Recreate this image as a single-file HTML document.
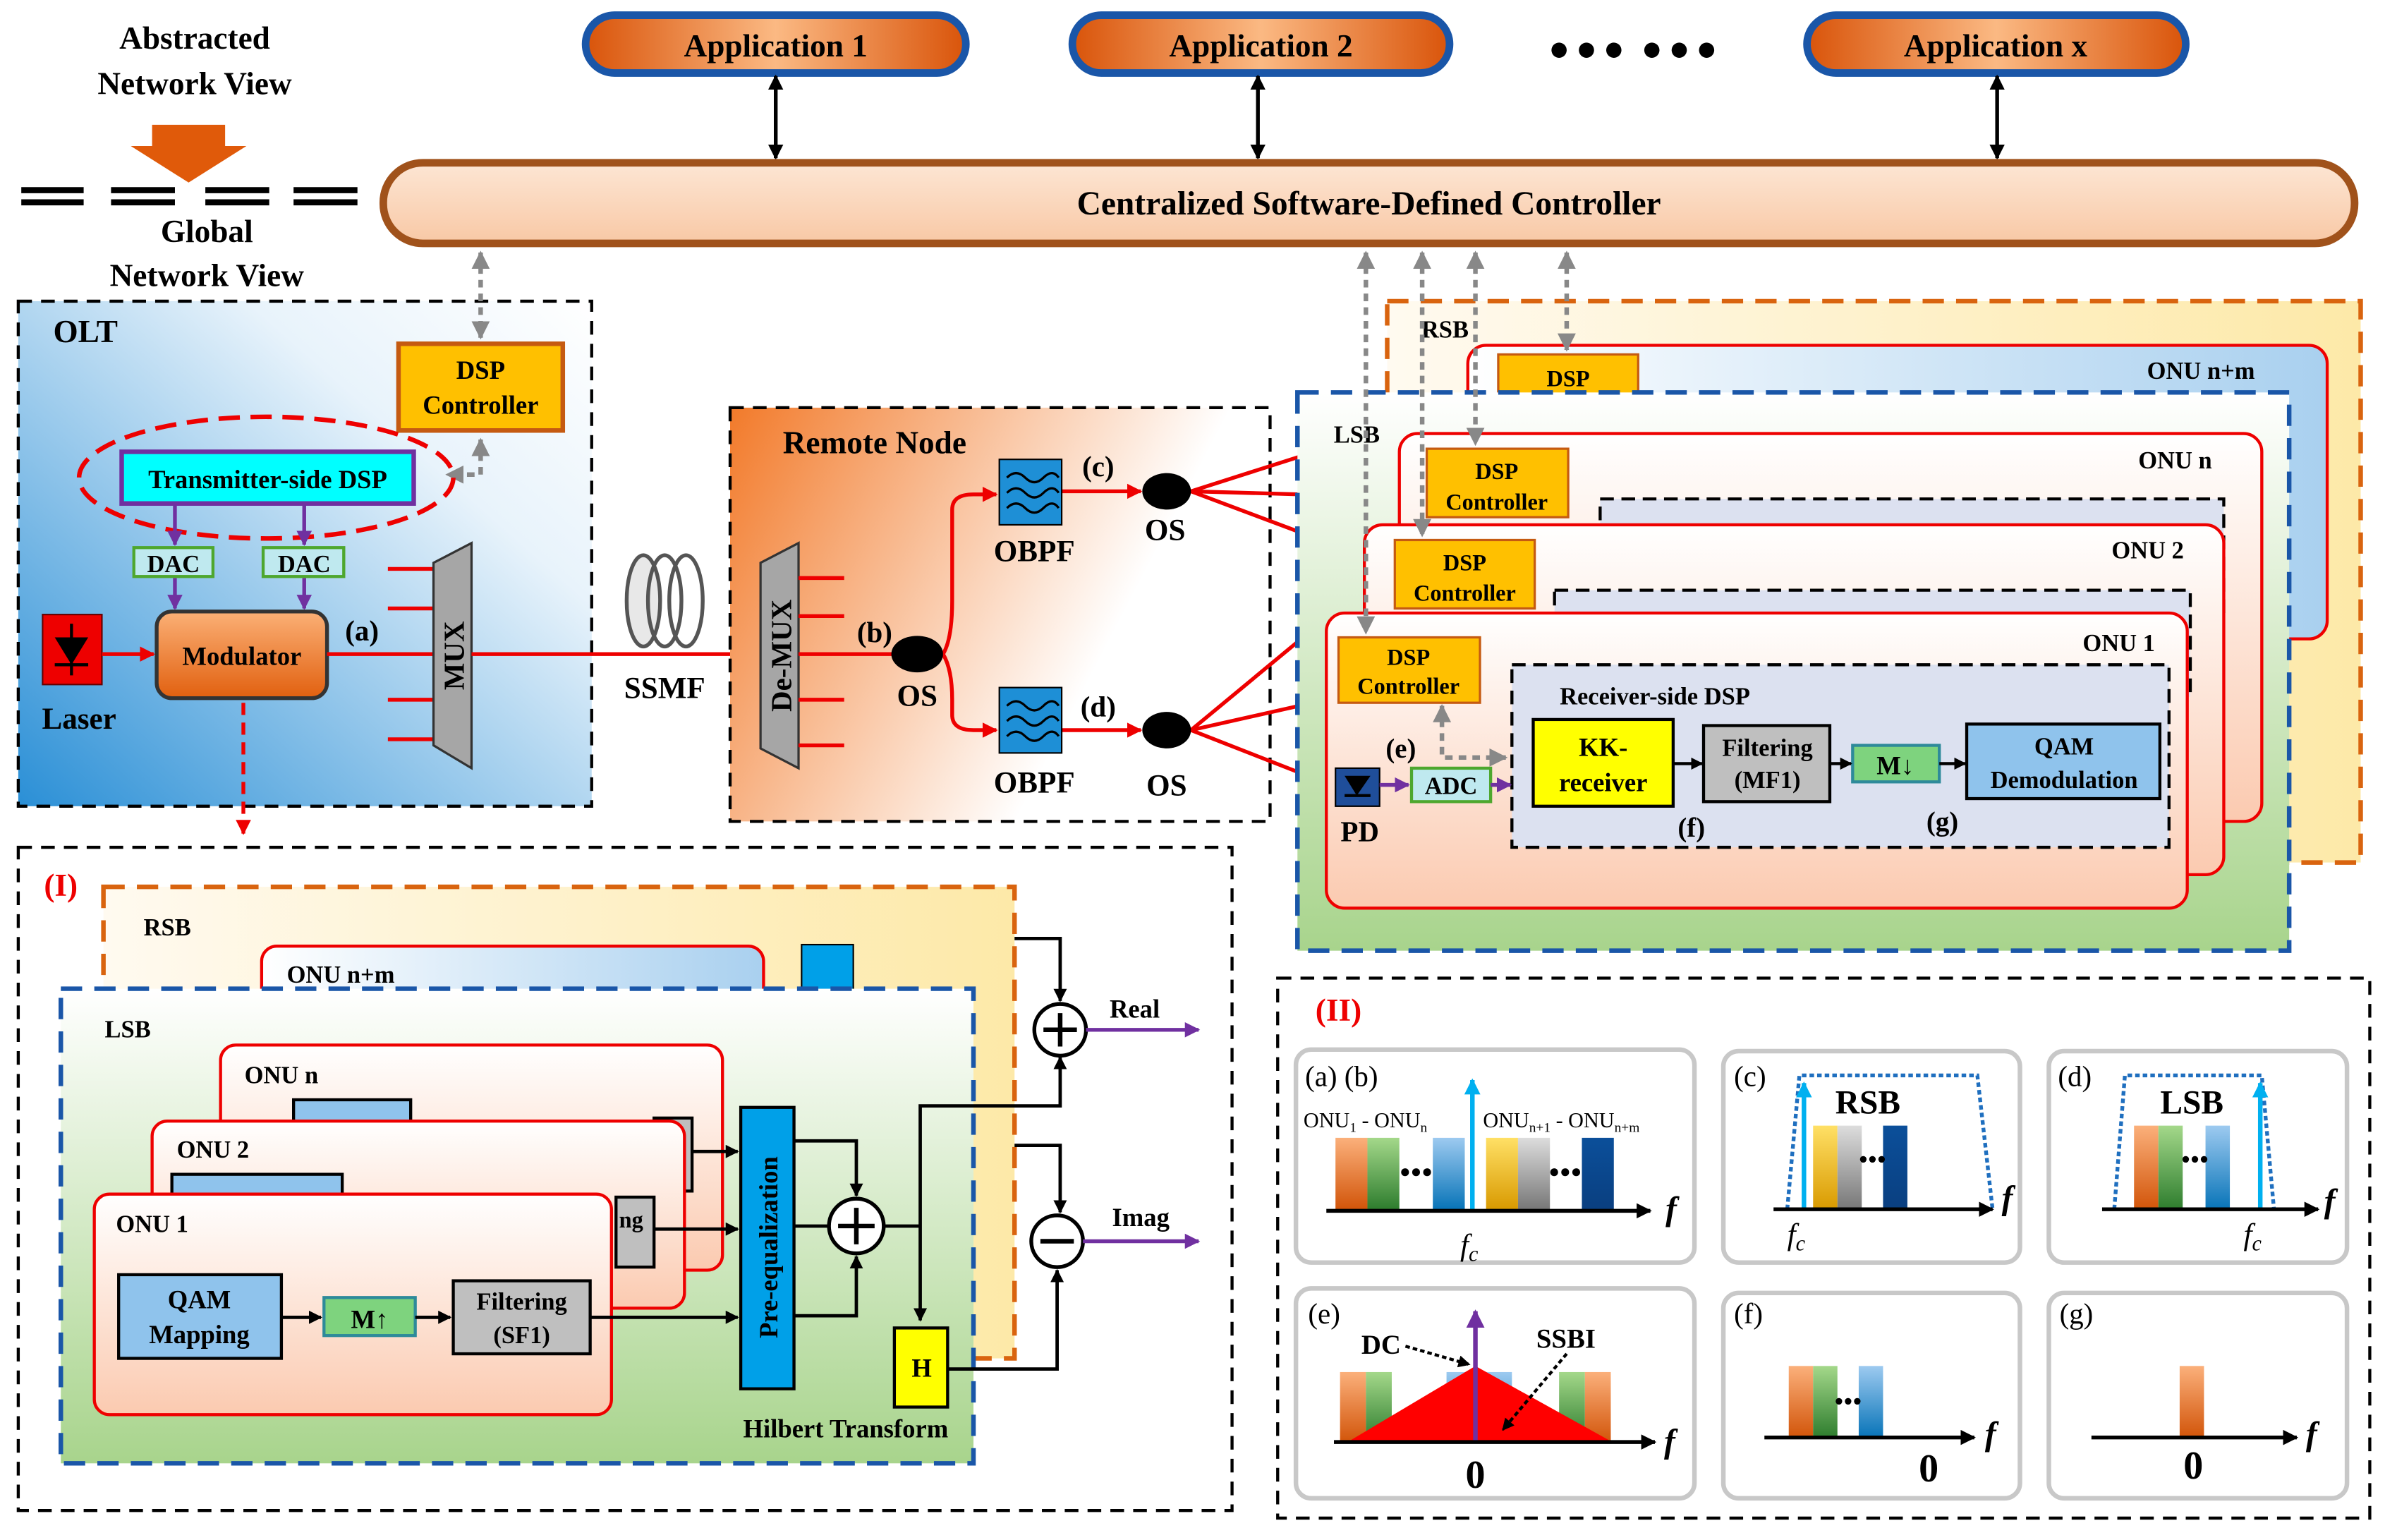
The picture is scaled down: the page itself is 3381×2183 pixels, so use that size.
<!DOCTYPE html>
<html><head><meta charset="utf-8"><style>html,body{margin:0;padding:0;background:#fff}svg{display:block}text{font-family:"Liberation Serif",serif;font-weight:bold}</style></head><body>
<svg width="3381" height="2183" viewBox="0 0 1568 1012.4" xmlns="http://www.w3.org/2000/svg">
<defs>
<marker id="ak" viewBox="0 0 10 10" refX="9" refY="5" markerWidth="4" markerHeight="4" orient="auto-start-reverse"><path d="M0,0L10,5L0,10z" fill="#000"/></marker>
<marker id="ar" viewBox="0 0 10 10" refX="9" refY="5" markerWidth="4" markerHeight="4" orient="auto-start-reverse"><path d="M0,0L10,5L0,10z" fill="#e00"/></marker>
<marker id="ap" viewBox="0 0 10 10" refX="9" refY="5" markerWidth="4" markerHeight="4" orient="auto-start-reverse"><path d="M0,0L10,5L0,10z" fill="#7030a0"/></marker>
<marker id="ag" viewBox="0 0 10 10" refX="9" refY="5" markerWidth="4" markerHeight="4" orient="auto-start-reverse"><path d="M0,0L10,5L0,10z" fill="#888"/></marker>
<marker id="ac" viewBox="0 0 10 10" refX="9" refY="5" markerWidth="3.5" markerHeight="3.5" orient="auto"><path d="M0,0L10,5L0,10z" fill="#00b0f0"/></marker>
<linearGradient id="gApp" x1="0" x2="1"><stop offset="0" stop-color="#d9540a"/><stop offset=".5" stop-color="#fbb983"/><stop offset="1" stop-color="#d9540a"/></linearGradient>
<linearGradient id="gCtl" x1="0" y1="0" x2="0" y2="1"><stop offset="0" stop-color="#fde6d4"/><stop offset="1" stop-color="#f8c8a5"/></linearGradient>
<linearGradient id="gOLT" x1="0" y1="1" x2="1" y2="0"><stop offset="0" stop-color="#2a8fd6"/><stop offset=".7" stop-color="#e8f3fb"/><stop offset="1" stop-color="#fff"/></linearGradient>
<linearGradient id="gRN" x1="0" y1="0" x2="1" y2=".4"><stop offset="0" stop-color="#f27a2a"/><stop offset=".8" stop-color="#fff"/></linearGradient>
<linearGradient id="gRSB" x1="0" y1="0" x2="1" y2="0"><stop offset="0" stop-color="#fffaf0"/><stop offset="1" stop-color="#fde9a8"/></linearGradient>
<linearGradient id="gLSB" x1="0" y1="0" x2="0" y2="1"><stop offset="0" stop-color="#fff"/><stop offset="1" stop-color="#a8d48c"/></linearGradient>
<linearGradient id="gONU" x1="0" y1="0" x2="0" y2="1"><stop offset="0" stop-color="#fff"/><stop offset="1" stop-color="#fbcab0"/></linearGradient>
<linearGradient id="gONUb" x1="0" y1="0" x2="1" y2="0"><stop offset="0" stop-color="#fff"/><stop offset="1" stop-color="#a9d0ef"/></linearGradient>
<linearGradient id="gMod" x1="0" y1="0" x2="0" y2="1"><stop offset="0" stop-color="#fbb076"/><stop offset="1" stop-color="#e1600f"/></linearGradient>
<linearGradient id="bo" x1="0" y1="0" x2="0" y2="1"><stop offset="0" stop-color="#fbb07b"/><stop offset="1" stop-color="#d2550a"/></linearGradient>
<linearGradient id="bg" x1="0" y1="0" x2="0" y2="1"><stop offset="0" stop-color="#a4d88a"/><stop offset="1" stop-color="#2e7d2e"/></linearGradient>
<linearGradient id="bb" x1="0" y1="0" x2="0" y2="1"><stop offset="0" stop-color="#9dcaf0"/><stop offset="1" stop-color="#0874b8"/></linearGradient>
<linearGradient id="by" x1="0" y1="0" x2="0" y2="1"><stop offset="0" stop-color="#ffe066"/><stop offset="1" stop-color="#d99a00"/></linearGradient>
<linearGradient id="bs" x1="0" y1="0" x2="0" y2="1"><stop offset="0" stop-color="#ddd"/><stop offset="1" stop-color="#777"/></linearGradient>
<linearGradient id="bd" x1="0" y1="0" x2="0" y2="1"><stop offset="0" stop-color="#0b4f9a"/><stop offset="1" stop-color="#0a3f80"/></linearGradient>
</defs>

<!-- top apps -->
<g font-size="21" text-anchor="middle">
<rect x="385" y="10" width="250" height="38" rx="19" fill="url(#gApp)" stroke="#1a56a8" stroke-width="5"/><text x="510" y="37">Application 1</text>
<rect x="705" y="10" width="248" height="38" rx="19" fill="url(#gApp)" stroke="#1a56a8" stroke-width="5"/><text x="829" y="37">Application 2</text>
<rect x="1188" y="10" width="249" height="38" rx="19" fill="url(#gApp)" stroke="#1a56a8" stroke-width="5"/><text x="1312" y="37">Application x</text>
</g>
<g fill="#000"><circle cx="1025" cy="33" r="5"/><circle cx="1043" cy="33" r="5"/><circle cx="1061" cy="33" r="5"/><circle cx="1086" cy="33" r="5"/><circle cx="1104" cy="33" r="5"/><circle cx="1122" cy="33" r="5"/></g>
<g stroke="#000" stroke-width="2.5" marker-start="url(#ak)" marker-end="url(#ak)"><line x1="510" y1="50" x2="510" y2="104"/><line x1="827" y1="50" x2="827" y2="104"/><line x1="1313" y1="50" x2="1313" y2="104"/></g>
<rect x="252" y="107" width="1296" height="53" rx="26" fill="url(#gCtl)" stroke="#a0521b" stroke-width="5"/>
<text x="900" y="141" font-size="22" text-anchor="middle">Centralized Software-Defined Controller</text>

<!-- abstracted view -->
<g font-size="21" text-anchor="middle"><text x="128" y="32">Abstracted</text><text x="128" y="62">Network View</text><text x="136" y="159">Global</text><text x="136" y="188">Network View</text></g>
<path d="M100,82H148V96H162L124,120L86,96H100z" fill="#e05a0a"/>
<g stroke="#000" stroke-width="4"><path d="M14,125H55M14,133H55M73,125H115M73,133H115M135,125H177M135,133H177M193,125H235M193,133H235"/></g>

<!-- OLT -->
<rect x="12" y="198" width="377" height="332" fill="url(#gOLT)" stroke="#000" stroke-width="2" stroke-dasharray="9,6"/>
<text x="35" y="225" font-size="21">OLT</text>
<rect x="262" y="226" width="108" height="57" fill="#ffc000" stroke="#c55a11" stroke-width="3"/>
<text x="316" y="249" font-size="17" text-anchor="middle">DSP</text><text x="316" y="272" font-size="17" text-anchor="middle">Controller</text>
<g stroke="#888" stroke-width="3" stroke-dasharray="5,4" fill="none"><line x1="316" y1="166" x2="316" y2="222" marker-start="url(#ag)" marker-end="url(#ag)"/><path d="M316,289V312H294" marker-start="url(#ag)" marker-end="url(#ag)"/></g>
<ellipse cx="175" cy="314" rx="123" ry="40" fill="none" stroke="#e00" stroke-width="3" stroke-dasharray="14,7"/>
<rect x="80" y="297" width="192" height="34" fill="#00ffff" stroke="#7030a0" stroke-width="3"/>
<text x="176" y="321" font-size="17" text-anchor="middle">Transmitter-side DSP</text>
<g stroke="#7030a0" stroke-width="2.5" marker-end="url(#ap)"><line x1="115" y1="332" x2="115" y2="358"/><line x1="200" y1="332" x2="200" y2="358"/><line x1="115" y1="380" x2="115" y2="400"/><line x1="200" y1="380" x2="200" y2="400"/></g>
<rect x="88" y="360" width="52" height="19" fill="#bfe9ef" stroke="#4ea72e" stroke-width="2"/><text x="114" y="376" font-size="16" text-anchor="middle">DAC</text>
<rect x="173" y="360" width="53" height="19" fill="#bfe9ef" stroke="#4ea72e" stroke-width="2"/><text x="200" y="376" font-size="16" text-anchor="middle">DAC</text>
<rect x="28" y="404" width="39" height="46" fill="#e00" stroke="#600" stroke-width="1"/>
<path d="M36,419H58L47,437z" fill="#000"/><line x1="36" y1="437" x2="58" y2="437" stroke="#000" stroke-width="2"/><line x1="47" y1="410" x2="47" y2="444" stroke="#000" stroke-width="2"/>
<text x="52" y="479" font-size="20" text-anchor="middle">Laser</text>
<line x1="67" y1="430" x2="101" y2="430" stroke="#e00" stroke-width="2.5" marker-end="url(#ar)"/>
<rect x="103" y="402" width="112" height="57" rx="10" fill="url(#gMod)" stroke="#333" stroke-width="2.5"/>
<text x="159" y="437" font-size="17" text-anchor="middle">Modulator</text>
<text x="238" y="421" font-size="19" text-anchor="middle">(a)</text>
<g stroke="#e00" stroke-width="2.5"><line x1="215" y1="430" x2="285" y2="430"/><path d="M255,374H285M255,400H285M255,460H285M255,486H285"/></g>
<path d="M285,370L310,357V505L285,490z" fill="#a6a6a6" stroke="#333" stroke-width="1.5"/>
<text transform="translate(305,431) rotate(-90)" font-size="19" text-anchor="middle">MUX</text>
<path d="M160,462V548" stroke="#e00" stroke-width="2.5" stroke-dasharray="8,5" marker-end="url(#ar)"/>

<!-- fiber -->
<line x1="310" y1="430" x2="498" y2="430" stroke="#e00" stroke-width="2.5" marker-end="url(#ar)"/>
<g fill="none" stroke="#555" stroke-width="2.5"><ellipse cx="423" cy="395" rx="11" ry="30" fill="#e8e8e8"/><ellipse cx="437" cy="395" rx="11" ry="30"/><ellipse cx="451" cy="395" rx="11" ry="30"/></g>
<text x="437" y="459" font-size="20" text-anchor="middle">SSMF</text>

<!-- Remote node -->
<rect x="480" y="268" width="355" height="272" fill="url(#gRN)" stroke="#000" stroke-width="2" stroke-dasharray="9,6"/>
<text x="575" y="298" font-size="21" text-anchor="middle">Remote Node</text>
<path d="M500,370L525,357V505L500,492z" fill="#a6a6a6" stroke="#333" stroke-width="1.5"/>
<text transform="translate(520,431) rotate(-90)" font-size="19" text-anchor="middle">De-MUX</text>
<g stroke="#e00" stroke-width="2.5" fill="none"><path d="M525,380H555M525,405H555M525,460H555M525,490H555M525,430H588"/>
<path d="M620,430Q626,420 626,395V335Q626,325 640,325H655" marker-end="url(#ar)"/><path d="M620,430Q626,440 626,460V470Q626,480 640,480H655" marker-end="url(#ar)"/>
<line x1="698" y1="323" x2="750" y2="323" marker-end="url(#ar)"/><line x1="698" y1="480" x2="750" y2="480" marker-end="url(#ar)"/>
<path d="M783,323L855,300M783,323L855,350M783,323L855,325"/><path d="M783,480L870,408M783,480L872,460"/><line x1="783" y1="480" x2="875" y2="516" marker-end="url(#ar)"/></g>
<text x="575" y="422" font-size="19" text-anchor="middle">(b)</text>
<ellipse cx="603" cy="430" rx="17" ry="12"/><text x="603" y="464" font-size="20" text-anchor="middle">OS</text>
<g><rect x="657" y="302" width="41" height="43" fill="#1e8fd6" stroke="#000"/><path d="M662,314q6,-6 12,0t12,0t10,0M662,324q6,-6 12,0t12,0t10,0M662,334q6,-6 12,0t12,0t10,0" fill="none" stroke="#000" stroke-width="1.5"/>
<rect x="657" y="452" width="41" height="43" fill="#1e8fd6" stroke="#000"/><path d="M662,464q6,-6 12,0t12,0t10,0M662,474q6,-6 12,0t12,0t10,0M662,484q6,-6 12,0t12,0t10,0" fill="none" stroke="#000" stroke-width="1.5"/></g>
<text x="680" y="369" font-size="20" text-anchor="middle">OBPF</text><text x="680" y="521" font-size="20" text-anchor="middle">OBPF</text>
<text x="722" y="313" font-size="19" text-anchor="middle">(c)</text><text x="722" y="471" font-size="19" text-anchor="middle">(d)</text>
<ellipse cx="767" cy="323" rx="16" ry="12"/><text x="766" y="355" font-size="20" text-anchor="middle">OS</text>
<ellipse cx="767" cy="480" rx="16" ry="12"/><text x="767" y="523" font-size="20" text-anchor="middle">OS</text>

<!-- Right ONU stack -->
<rect x="912" y="198" width="640" height="369" fill="url(#gRSB)" stroke="#d9640f" stroke-width="3" stroke-dasharray="14,8"/>
<text x="950" y="222" font-size="16" text-anchor="middle">RSB</text>
<rect x="965" y="227" width="565" height="193" rx="12" fill="url(#gONUb)" stroke="#e00" stroke-width="2"/>
<text x="1447" y="249" font-size="16" text-anchor="middle">ONU n+m</text>
<rect x="985" y="233" width="92" height="29" fill="#ffc000" stroke="#c55a11" stroke-width="1.5"/><text x="1031" y="254" font-size="15" text-anchor="middle">DSP</text>
<rect x="853" y="258" width="652" height="367" fill="url(#gLSB)" stroke="#1a56a8" stroke-width="3" stroke-dasharray="14,8"/>
<text x="892" y="291" font-size="16" text-anchor="middle">LSB</text>
<rect x="920" y="285" width="567" height="255" rx="12" fill="url(#gONU)" stroke="#e00" stroke-width="2"/>
<text x="1430" y="308" font-size="16" text-anchor="middle">ONU n</text>
<rect x="1052" y="328" width="410" height="80" fill="#dce1f0" stroke="#000" stroke-width="2" stroke-dasharray="9,5"/>
<rect x="938" y="295" width="93" height="45" fill="#ffc000" stroke="#c55a11" stroke-width="1.5"/><text x="984" y="315" font-size="15" text-anchor="middle">DSP</text><text x="984" y="335" font-size="15" text-anchor="middle">Controller</text>
<rect x="897" y="345" width="565" height="230" rx="12" fill="url(#gONU)" stroke="#e00" stroke-width="2"/>
<text x="1412" y="367" font-size="16" text-anchor="middle">ONU 2</text>
<rect x="1022" y="388" width="418" height="70" fill="#dce1f0" stroke="#000" stroke-width="2" stroke-dasharray="9,5"/>
<rect x="917" y="355" width="92" height="45" fill="#ffc000" stroke="#c55a11" stroke-width="1.5"/><text x="963" y="375" font-size="15" text-anchor="middle">DSP</text><text x="963" y="395" font-size="15" text-anchor="middle">Controller</text>
<rect x="872" y="403" width="566" height="194" rx="12" fill="url(#gONU)" stroke="#e00" stroke-width="2"/>
<text x="1393" y="428" font-size="16" text-anchor="middle">ONU 1</text>
<rect x="880" y="419" width="93" height="43" fill="#ffc000" stroke="#c55a11" stroke-width="1.5"/><text x="926" y="437" font-size="15" text-anchor="middle">DSP</text><text x="926" y="456" font-size="15" text-anchor="middle">Controller</text>
<rect x="994" y="437" width="432" height="120" fill="#dce1f0" stroke="#000" stroke-width="2" stroke-dasharray="9,5"/>
<text x="1088" y="463" font-size="16" text-anchor="middle">Receiver-side DSP</text>
<rect x="1008" y="473" width="92" height="57" fill="#ffff00" stroke="#000" stroke-width="2"/><text x="1054" y="497" font-size="17" text-anchor="middle">KK-</text><text x="1054" y="520" font-size="17" text-anchor="middle">receiver</text>
<rect x="1120" y="477" width="83" height="50" fill="#bfbfbf" stroke="#000" stroke-width="2"/><text x="1162" y="497" font-size="16" text-anchor="middle">Filtering</text><text x="1162" y="518" font-size="16" text-anchor="middle">(MF1)</text>
<rect x="1218" y="490" width="57" height="24" fill="#7ed37e" stroke="#2e8a9a" stroke-width="2"/><text x="1246" y="509" font-size="17" text-anchor="middle">M↓</text>
<rect x="1293" y="476" width="127" height="49" fill="#8fc3ec" stroke="#000" stroke-width="2"/><text x="1357" y="496" font-size="16" text-anchor="middle">QAM</text><text x="1357" y="518" font-size="16" text-anchor="middle">Demodulation</text>
<g stroke="#000" stroke-width="2" marker-end="url(#ak)"><line x1="1100" y1="502" x2="1119" y2="502"/><line x1="1203" y1="502" x2="1217" y2="502"/><line x1="1275" y1="502" x2="1292" y2="502"/></g>
<rect x="878" y="505" width="29" height="25" fill="#1f4e9a" stroke="#000"/><path d="M884,510H901L892,523z" fill="#000"/><line x1="884" y1="523" x2="901" y2="523" stroke="#000" stroke-width="2"/>
<text x="894" y="553" font-size="19" text-anchor="middle">PD</text>
<text x="921" y="498" font-size="18" text-anchor="middle">(e)</text>
<line x1="907" y1="516" x2="926" y2="516" stroke="#7030a0" stroke-width="2.5" marker-end="url(#ap)"/>
<rect x="928" y="505" width="52" height="22" fill="#bfe9ef" stroke="#4ea72e" stroke-width="2"/><text x="954" y="522" font-size="16" text-anchor="middle">ADC</text>
<line x1="980" y1="516" x2="993" y2="516" stroke="#7030a0" stroke-width="2.5" marker-end="url(#ap)"/>
<text x="1112" y="550" font-size="18" text-anchor="middle">(f)</text><text x="1277" y="546" font-size="18" text-anchor="middle">(g)</text>
<g stroke="#888" stroke-width="3" stroke-dasharray="5,4" fill="none">
<path d="M948,464V498H990" marker-start="url(#ag)" marker-end="url(#ag)"/>
<line x1="898" y1="166" x2="898" y2="416" marker-start="url(#ag)" marker-end="url(#ag)"/>
<line x1="935" y1="166" x2="935" y2="352" marker-start="url(#ag)" marker-end="url(#ag)"/>
<line x1="970" y1="166" x2="970" y2="292" marker-start="url(#ag)" marker-end="url(#ag)"/>
<line x1="1030" y1="166" x2="1030" y2="230" marker-start="url(#ag)" marker-end="url(#ag)"/></g>

<!-- (I) -->
<rect x="12" y="557" width="798" height="436" fill="#fff" stroke="#000" stroke-width="2" stroke-dasharray="9,6"/>
<text x="40" y="589" font-size="21" fill="#e00" text-anchor="middle">(I)</text>
<rect x="68" y="583" width="599" height="310" fill="url(#gRSB)" stroke="#d9640f" stroke-width="3" stroke-dasharray="14,8"/>
<text x="110" y="615" font-size="16" text-anchor="middle">RSB</text>
<rect x="172" y="622" width="330" height="80" rx="10" fill="url(#gONUb)" stroke="#e00" stroke-width="2"/>
<text x="224" y="646" font-size="16" text-anchor="middle">ONU n+m</text>
<rect x="527" y="621" width="34" height="30" fill="#00a0e8" stroke="#000"/>
<rect x="40" y="650" width="600" height="312" fill="url(#gLSB)" stroke="#1a56a8" stroke-width="3" stroke-dasharray="14,8"/>
<text x="84" y="682" font-size="16" text-anchor="middle">LSB</text>
<rect x="145" y="687" width="330" height="148" rx="10" fill="url(#gONU)" stroke="#e00" stroke-width="2"/>
<text x="185" y="712" font-size="16" text-anchor="middle">ONU n</text>
<rect x="193" y="723" width="77" height="30" fill="#8fc3ec" stroke="#000" stroke-width="2"/>
<rect x="430" y="735" width="25" height="48" fill="#bfbfbf" stroke="#000" stroke-width="2"/><text x="440" y="755" font-size="15">g</text>
<rect x="100" y="737" width="350" height="123" rx="10" fill="url(#gONU)" stroke="#e00" stroke-width="2"/>
<text x="140" y="761" font-size="16" text-anchor="middle">ONU 2</text>
<rect x="113" y="772" width="112" height="30" fill="#8fc3ec" stroke="#000" stroke-width="2"/>
<rect x="405" y="787" width="25" height="46" fill="#bfbfbf" stroke="#000" stroke-width="2"/><text x="407" y="807" font-size="15">ng</text>
<rect x="62" y="785" width="340" height="145" rx="10" fill="url(#gONU)" stroke="#e00" stroke-width="2"/>
<text x="100" y="810" font-size="16" text-anchor="middle">ONU 1</text>
<rect x="78" y="838" width="107" height="55" fill="#8fc3ec" stroke="#000" stroke-width="2"/><text x="131" y="860" font-size="17" text-anchor="middle">QAM</text><text x="131" y="883" font-size="17" text-anchor="middle">Mapping</text>
<rect x="213" y="853" width="60" height="25" fill="#7ed37e" stroke="#2e8a9a" stroke-width="2"/><text x="243" y="873" font-size="17" text-anchor="middle">M↑</text>
<rect x="298" y="842" width="90" height="48" fill="#bfbfbf" stroke="#000" stroke-width="2"/><text x="343" y="861" font-size="16" text-anchor="middle">Filtering</text><text x="343" y="883" font-size="16" text-anchor="middle">(SF1)</text>
<g stroke="#000" stroke-width="2.2" fill="none" marker-end="url(#ak)">
<line x1="185" y1="866" x2="211" y2="866"/><line x1="273" y1="866" x2="296" y2="866"/>
<line x1="388" y1="866" x2="485" y2="866"/><line x1="430" y1="808" x2="485" y2="808"/><line x1="455" y1="757" x2="485" y2="757"/>
<path d="M522,750H563V786"/><path d="M522,865H563V826"/>
<path d="M605,806V868"/>
<path d="M605,806V727H697V695"/><path d="M667,617H697V658"/>
<path d="M667,753H697V797"/><path d="M623,900H695V835"/>
</g>
<line x1="522" y1="806" x2="545" y2="806" stroke="#000" stroke-width="2.2"/><line x1="581" y1="806" x2="605" y2="806" stroke="#000" stroke-width="2.2"/>
<rect x="487" y="728" width="35" height="185" fill="#00a0e8" stroke="#000" stroke-width="2"/>
<text transform="translate(511,820) rotate(-90)" font-size="17" text-anchor="middle">Pre-equalization</text>
<circle cx="563" cy="806" r="18" fill="#fff" stroke="#000" stroke-width="2.5"/><path d="M551,806H575M563,794V818" stroke="#000" stroke-width="3"/>
<circle cx="697" cy="677" r="17" fill="#fff" stroke="#000" stroke-width="2.5"/><path d="M686,677H708M697,666V688" stroke="#000" stroke-width="3"/>
<circle cx="695" cy="816" r="17" fill="#fff" stroke="#000" stroke-width="2.5"/><path d="M684,816H706" stroke="#000" stroke-width="3"/>
<rect x="588" y="873" width="35" height="52" fill="#ffff00" stroke="#000" stroke-width="2"/><text x="606" y="905" font-size="17" text-anchor="middle">H</text>
<text x="556" y="945" font-size="17" text-anchor="middle">Hilbert Transform</text>
<g stroke="#7030a0" stroke-width="2.5" marker-end="url(#ap)"><line x1="714" y1="677" x2="788" y2="677"/><line x1="712" y1="816" x2="788" y2="816"/></g>
<text x="746" y="669" font-size="17" text-anchor="middle">Real</text><text x="750" y="806" font-size="17" text-anchor="middle">Imag</text>

<!-- (II) -->
<rect x="840" y="643" width="718" height="355" fill="#fff" stroke="#000" stroke-width="2" stroke-dasharray="9,6"/>
<text x="880" y="671" font-size="21" fill="#e00" text-anchor="middle">(II)</text>
<g fill="#fff" stroke="#c8c8c8" stroke-width="3">
<rect x="852" y="690" width="262" height="140" rx="10"/><rect x="1133" y="691" width="195" height="139" rx="10"/><rect x="1347" y="691" width="196" height="139" rx="10"/>
<rect x="852" y="847" width="262" height="138" rx="10"/><rect x="1133" y="850" width="195" height="135" rx="10"/><rect x="1347" y="850" width="196" height="135" rx="10"/></g>
<g font-size="19" font-weight="normal"><text x="858" y="714" style="font-weight:normal">(a) (b)</text><text x="1140" y="714" style="font-weight:normal">(c)</text><text x="1353" y="714" style="font-weight:normal">(d)</text><text x="860" y="870" style="font-weight:normal">(e)</text><text x="1140" y="870" style="font-weight:normal">(f)</text><text x="1354" y="870" style="font-weight:normal">(g)</text></g>
<!-- ab -->
<rect x="878" y="748" width="21" height="47" fill="url(#bo)"/><rect x="899" y="748" width="21" height="47" fill="url(#bg)"/><rect x="942" y="748" width="21" height="47" fill="url(#bb)"/>
<rect x="977" y="748" width="21" height="47" fill="url(#by)"/><rect x="998" y="748" width="21" height="47" fill="url(#bs)"/><rect x="1040" y="748" width="21" height="47" fill="url(#bd)"/>
<text x="931" y="774" font-size="12" text-anchor="middle">●●●</text><text x="1029" y="774" font-size="12" text-anchor="middle">●●●</text>
<line x1="968" y1="795" x2="968" y2="710" stroke="#00b0f0" stroke-width="3" marker-end="url(#ac)"/>
<line x1="872" y1="796" x2="1085" y2="796" stroke="#000" stroke-width="2.5" marker-end="url(#ak)"/>
<text x="1095" y="802" font-size="22" font-style="italic">f</text><text x="960" y="825" font-size="20" font-style="italic" style="font-weight:normal">f<tspan font-size="14" dy="4">c</tspan></text>
<text x="857" y="741" font-size="14" style="font-weight:normal">ONU<tspan font-size="9" dy="3">1</tspan><tspan dy="-3"> - ONU</tspan><tspan font-size="9" dy="3">n</tspan></text>
<text x="975" y="741" font-size="14" style="font-weight:normal">ONU<tspan font-size="9" dy="3">n+1</tspan><tspan dy="-3"> - ONU</tspan><tspan font-size="9" dy="3">n+m</tspan></text>
<!-- c -->
<path d="M1175,795L1183,707H1300L1310,795" fill="none" stroke="#1f6fbf" stroke-width="2.5" stroke-dasharray="3,2"/>
<rect x="1192" y="740" width="16" height="55" fill="url(#by)"/><rect x="1208" y="740" width="16" height="55" fill="url(#bs)"/><rect x="1238" y="740" width="16" height="55" fill="url(#bd)"/>
<text x="1231" y="765" font-size="10" text-anchor="middle">●●●</text>
<line x1="1186" y1="795" x2="1186" y2="712" stroke="#00b0f0" stroke-width="3" marker-end="url(#ac)"/>
<text x="1228" y="732" font-size="22" text-anchor="middle">RSB</text>
<line x1="1166" y1="795" x2="1310" y2="795" stroke="#000" stroke-width="2.5" marker-end="url(#ak)"/>
<text x="1316" y="795" font-size="22" font-style="italic">f</text><text x="1175" y="818" font-size="20" font-style="italic" style="font-weight:normal">f<tspan font-size="14" dy="4">c</tspan></text>
<!-- d -->
<path d="M1390,795L1397,707H1487L1495,795" fill="none" stroke="#1f6fbf" stroke-width="2.5" stroke-dasharray="3,2"/>
<rect x="1403" y="740" width="16" height="55" fill="url(#bo)"/><rect x="1419" y="740" width="16" height="55" fill="url(#bg)"/><rect x="1450" y="740" width="16" height="55" fill="url(#bb)"/>
<text x="1443" y="765" font-size="10" text-anchor="middle">●●●</text>
<line x1="1486" y1="795" x2="1486" y2="712" stroke="#00b0f0" stroke-width="3" marker-end="url(#ac)"/>
<text x="1441" y="732" font-size="22" text-anchor="middle">LSB</text>
<line x1="1382" y1="795" x2="1524" y2="795" stroke="#000" stroke-width="2.5" marker-end="url(#ak)"/>
<text x="1528" y="797" font-size="22" font-style="italic">f</text><text x="1475" y="818" font-size="20" font-style="italic" style="font-weight:normal">f<tspan font-size="14" dy="4">c</tspan></text>
<!-- e -->
<rect x="881" y="902" width="17" height="46" fill="url(#bo)"/><rect x="898" y="902" width="17" height="46" fill="url(#bg)"/><rect x="951" y="902" width="17" height="46" fill="url(#bb)"/>
<rect x="977" y="902" width="17" height="46" fill="url(#bb)"/><rect x="1025" y="902" width="17" height="46" fill="url(#bg)"/><rect x="1042" y="902" width="17" height="46" fill="url(#bo)"/>
<path d="M886,948L970,898L1060,948z" fill="#ff0000"/>
<line x1="970" y1="948" x2="970" y2="862" stroke="#7030a0" stroke-width="3" marker-end="url(#ap)"/>
<line x1="877" y1="948" x2="1088" y2="948" stroke="#000" stroke-width="2.5" marker-end="url(#ak)"/>
<text x="1094" y="955" font-size="22" font-style="italic">f</text>
<text x="970" y="978" font-size="26" text-anchor="middle">0</text>
<text x="895" y="890" font-size="18">DC</text><text x="1010" y="886" font-size="18">SSBI</text>
<path d="M924,885L966,897" stroke="#000" stroke-width="2" stroke-dasharray="3,2" marker-end="url(#ak)"/>
<path d="M1030,890L988,940" stroke="#000" stroke-width="2" stroke-dasharray="3,2" marker-end="url(#ak)"/>
<!-- f -->
<rect x="1176" y="898" width="16" height="47" fill="url(#bo)"/><rect x="1192" y="898" width="16" height="47" fill="url(#bg)"/><rect x="1222" y="898" width="16" height="47" fill="url(#bb)"/>
<text x="1215" y="924" font-size="10" text-anchor="middle">●●●</text>
<line x1="1160" y1="945" x2="1298" y2="945" stroke="#000" stroke-width="2.5" marker-end="url(#ak)"/>
<text x="1305" y="950" font-size="22" font-style="italic">f</text><text x="1268" y="974" font-size="26" text-anchor="middle">0</text>
<!-- g -->
<rect x="1433" y="898" width="16" height="47" fill="url(#bo)"/>
<line x1="1375" y1="945" x2="1510" y2="945" stroke="#000" stroke-width="2.5" marker-end="url(#ak)"/>
<text x="1516" y="950" font-size="22" font-style="italic">f</text><text x="1442" y="972" font-size="26" text-anchor="middle">0</text>
</svg>
</body></html>
